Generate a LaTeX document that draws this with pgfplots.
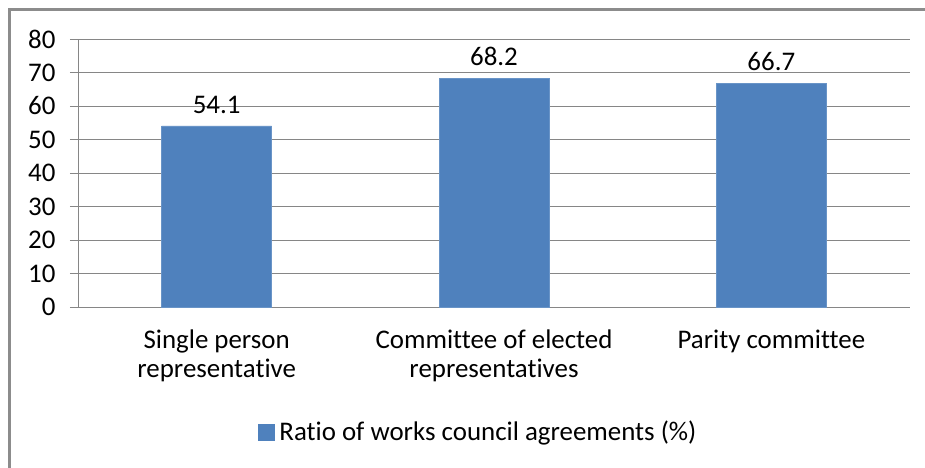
\documentclass[border=0pt]{standalone}
\usepackage{fontspec}
\setmainfont{Carlito}[Ligatures=NoCommon]
\usepackage{pgfplots}
\pgfplotsset{compat=1.18}
\definecolor{barblue}{HTML}{4F81BD}
\definecolor{gridgray}{HTML}{868686}
\definecolor{framegray}{HTML}{8C8C8C}
\begin{document}
\begin{tikzpicture}
\path[use as bounding box] (0bp,0bp) rectangle (925bp,-468bp);
\draw[framegray, line width=2.5bp] (9.5bp,-468bp) -- (9.5bp,-9.5bp) -- (925bp,-9.5bp);
\begin{axis}[
  at={(78bp,-307bp)}, anchor=south west,
  scale only axis, width=832bp, height=268bp,
  xmin=-0.5, xmax=2.5, ymin=0, ymax=80,
  ytick={0,10,...,80},
  xtick={0,1,2},
  xticklabels={{Single person\\representative},{Committee of elected\\representatives},{Parity committee}},
  xticklabel style={align=center, yshift=-11bp},
  x tick style={draw=none},
  extra x ticks={-0.5,0.5,1.5,2.5},
  extra x tick labels={},
  extra x tick style={tick style={draw=gridgray, line width=1bp}, major tick length=9bp, tick align=outside},
  axis x line*=bottom, axis y line*=left,
  axis line style={draw=gridgray, line width=1bp, -},
  y tick style={draw=gridgray, line width=1bp},
  tick align=outside, major tick length=8bp,
  ymajorgrids, major grid style={draw=gridgray, line width=1bp},
  yticklabel style={xshift=-11bp},
  font=\fontsize{27}{29}\selectfont,
  /pgf/number format/assume math mode=true,
  ybar, bar width=110bp,
  nodes near coords,
  nodes near coords style={anchor=south, yshift=9bp, font=\fontsize{27}{29}\selectfont},
  legend style={draw=none, at={(0.481,-0.466)}, anchor=center, font=\fontsize{27}{29}\selectfont, inner sep=0pt},
  legend image code/.code={\fill[barblue] (0bp,-8bp) rectangle (16bp,8bp); \path (19bp,0bp);},
]
\addplot[fill=barblue, draw=barblue!85!white] coordinates {(0,54.1) (1,68.2) (2,66.7)};
\addlegendentry{Ratio of works council agreements (\%)}
\end{axis}
\end{tikzpicture}
\end{document}
